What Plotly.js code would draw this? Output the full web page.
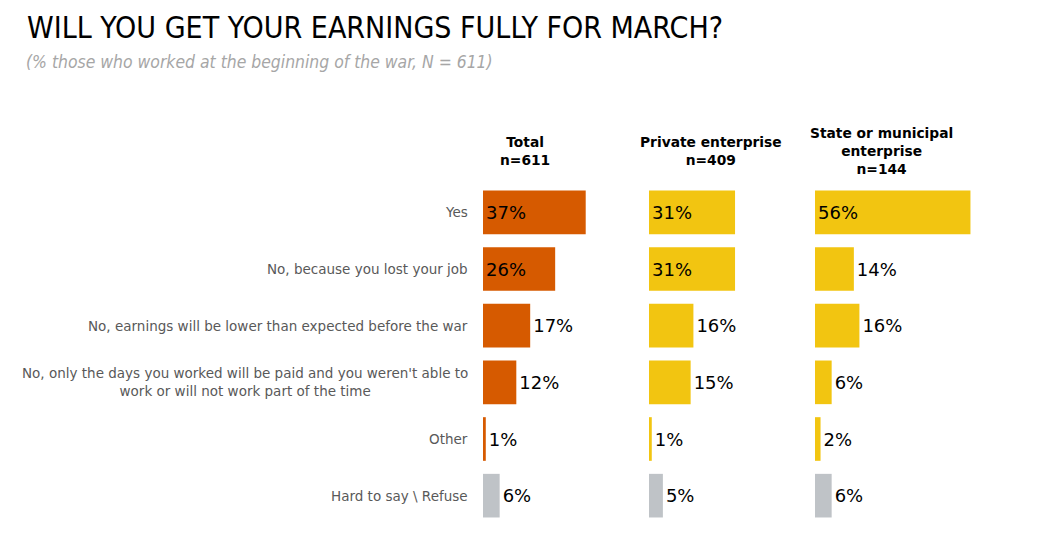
<!DOCTYPE html>
<html>
<head>
<meta charset="utf-8">
<script src="https://cdn.plot.ly/plotly-3.0.1.min.js"></script>
<style>html,body{margin:0;padding:0;background:#fff;} #chart{width:1039px;height:533px;}</style>
</head>
<body>
<div id="chart"></div>
<script>
const categories = ["Yes", "No, because you lost your job", "No, earnings will be lower than expected before the war", "No, only the days you worked will be paid and you weren't able to work or will not work part of the time", "Other", "Hard to say \\ Refuse"];
const categoryLabels = ["Yes", "No, because you lost your job", "No, earnings will be lower than expected before the war", "No, only the days you worked will be paid and you weren't able to<br>work or will not work part of the time", "Other", "Hard to say \\ Refuse"];
const totalValues = [37, 26, 17, 12, 1, 6];
const privateValues = [31, 31, 16, 15, 1, 5];
const stateValues = [56, 14, 16, 6, 2, 6];
const groupHeaders = ["<b>Total</b><br><b>n=611</b>", "<b>Private enterprise</b><br><b>n=409</b>", "<b>State or municipal</b><br><b>enterprise</b><br><b>n=144</b>"];
const titleText = "WILL YOU GET YOUR EARNINGS FULLY FOR MARCH?";
const subtitleText = "(% those who worked at the beginning of the war, N = 611)";

const W = 1039, H = 533;
const ORANGE = "#D65A00", YELLOW = "#F2C511", GRAY = "#BFC3C7";
const FONT = "DejaVu Sans, Verdana, sans-serif";
const NARROW = "Liberation Sans Narrow, DejaVu Sans Condensed, Arial Narrow, sans-serif";
const refuseCat = categories[categories.length - 1];

function makeTrace(values, mainColor, xa) {
  const colors = categories.map(c => c === refuseCat ? GRAY : mainColor);
  return {
    type: "bar", orientation: "h",
    x: values, y: categories,
    xaxis: xa, yaxis: "y",
    marker: {color: colors, line: {width: 0}},
    text: values.map(v => v + "%"),
    textposition: values.map(v => v >= 20 ? "inside" : "outside"),
    insidetextanchor: "start",
    textfont: {family: FONT, size: 18, color: "#000"},
    outsidetextfont: {family: FONT, size: 18, color: "#000"},
    insidetextfont: {family: FONT, size: 18, color: "#000"},
    constraintext: "none",
    cliponaxis: false,
    hoverinfo: "skip"
  };
}

const px = x => x / W;
const mT = 184, mB = 9;
const plotH = H - mT - mB;
const py = y => (H - mB - y) / plotH;

const doms = [[483, 644], [649, 810], [815, 976]];
const headerX = [525, 711, 881];

const xaxisBase = {range: [0, 58], showgrid: false, zeroline: false, showticklabels: false, showline: false, fixedrange: true};

const annotations = [];
annotations.push({xref: "paper", yref: "paper", x: px(25), y: py(27), xanchor: "left", yanchor: "middle", text: titleText, showarrow: false, font: {family: NARROW, size: 30, color: "#000"}});
annotations.push({xref: "paper", yref: "paper", x: px(24), y: py(62), xanchor: "left", yanchor: "middle", text: "<i>" + subtitleText + "</i>", showarrow: false, font: {family: NARROW, size: 17.4, color: "#A6A6A6"}});
groupHeaders.forEach((h, i) => {
  annotations.push({xref: "paper", yref: "paper", x: px(headerX[i]), y: py(151), xanchor: "center", yanchor: "middle", align: "center", text: h, showarrow: false, font: {family: FONT, size: 13.8, color: "#000"}});
});
categories.forEach((c, i) => {
  annotations.push({xref: "paper", yref: "y", x: px(470), y: c, xanchor: "right", yanchor: "middle", align: "center", text: categoryLabels[i], showarrow: false, font: {family: FONT, size: 13.5, color: "#595959"}});
});

const layout = {
  width: W, height: H,
  margin: {l: 0, r: 0, t: mT, b: mB, pad: 0},
  paper_bgcolor: "#fff", plot_bgcolor: "#fff",
  showlegend: false,
  bargap: 0.23,
  xaxis: Object.assign({}, xaxisBase, {domain: [px(doms[0][0]), px(doms[0][1])], anchor: "y"}),
  xaxis2: Object.assign({}, xaxisBase, {domain: [px(doms[1][0]), px(doms[1][1])], anchor: "y"}),
  xaxis3: Object.assign({}, xaxisBase, {domain: [px(doms[2][0]), px(doms[2][1])], anchor: "y"}),
  yaxis: {type: "category", autorange: "reversed", showticklabels: false, showgrid: false, zeroline: false, showline: false, ticks: "", fixedrange: true},
  annotations: annotations
};

Plotly.newPlot("chart", [
  makeTrace(totalValues, ORANGE, "x"),
  makeTrace(privateValues, YELLOW, "x2"),
  makeTrace(stateValues, YELLOW, "x3")
], layout, {displayModeBar: false, staticPlot: true});
</script>
</body>
</html>
